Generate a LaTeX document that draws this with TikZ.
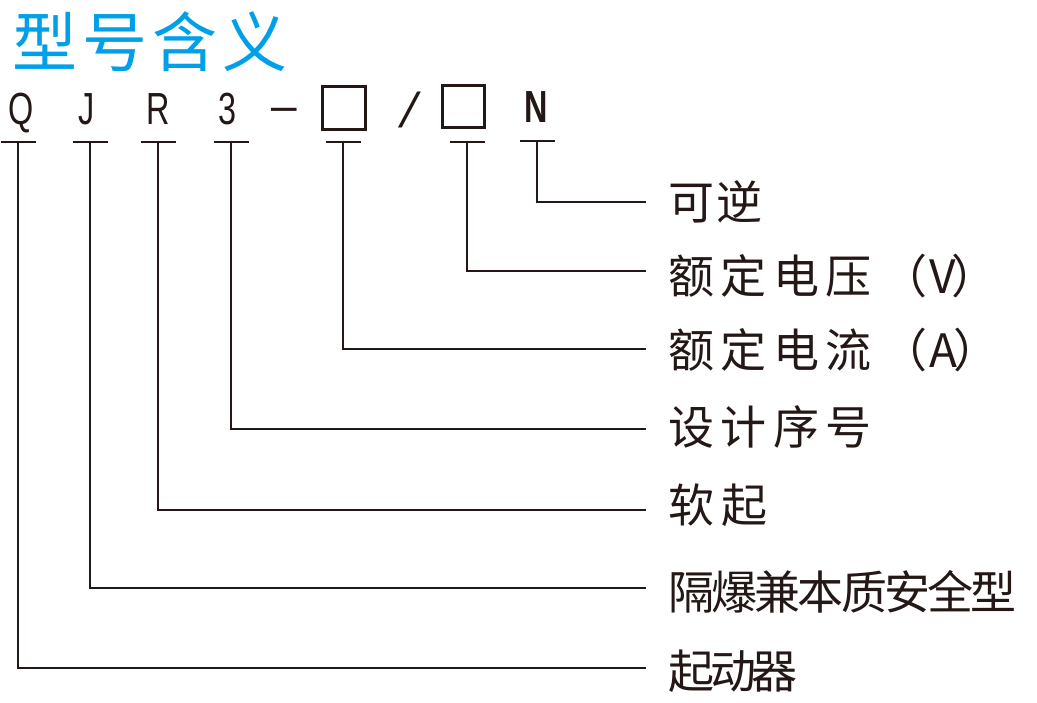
\documentclass[tikz,border=0pt]{standalone}
\usepackage{fontspec}
\newfontfamily\cjk{Noto Sans CJK SC}
\newfontfamily\narrow[FakeStretch=0.72]{Liberation Sans}
\definecolor{ink}{HTML}{231815}
\definecolor{titleblue}{HTML}{00A0E9}
\tikzset{
  link/.style={draw=ink, line width=2.6pt},
  letter/.style={inner sep=0pt, anchor=base, text=ink, font=\narrow\fontsize{45}{45}\selectfont},
  slot/.style={draw=ink, line width=2.8pt, inner sep=0pt, minimum size=43pt},
  lbl/.style={inner sep=0pt, anchor=west, text=ink},
}
\newcommand{\lblfont}[1]{\cjk\fontsize{46}{46}\selectfont\addfontfeatures{LetterSpace=#1}}
\newcommand{\paren}[1]{{\addfontfeatures{LetterSpace=0}\hspace{10pt}（\kern2pt #1\kern-4pt）}}
\begin{document}
\begin{tikzpicture}[x=1pt,y=-1pt]
\useasboundingbox (0,0) rectangle (1037,703);
% title
\node[inner sep=0pt, anchor=west, text=titleblue, font=\cjk\fontsize{65}{65}\selectfont\addfontfeatures{LetterSpace=8}] (title) at (12,42) {型号含义};
% code letters
\node[letter] (q) at (21,125) {Q};
\node[letter] (j) at (87,125) {J};
\node[letter] (r) at (158,125) {R};
\node[letter] (three) at (228,125) {3};
\node[inner sep=0pt, anchor=base, text=ink, font=\fontspec{Liberation Sans}\fontsize{46}{46}\selectfont] (dash) at (284,122) {–};
\node[slot] (box1) at (344,108) {};
\node[inner sep=0pt, text=ink, transform shape, xslant=0.26, font=\fontspec{Liberation Sans}\fontsize{49}{49}\selectfont] (slash) at (410,110) {/};
\node[slot, minimum size=42pt] (box2) at (463.5,106.5) {};
\node[letter, font=\narrow\bfseries\fontsize{45}{45}\selectfont] (n) at (536,123) {N};
% labels
\node[lbl, font=\lblfont{6}] (l1) at (668,202) {可逆};
\node[lbl, font=\lblfont{14}] (l2) at (668,276) {额定电压\paren{V}};
\node[lbl, font=\lblfont{14}] (l3) at (668,350) {额定电流\paren{A}};
\node[lbl, font=\lblfont{14}] (l4) at (668,427) {设计序号};
\node[lbl, font=\lblfont{17}] (l5) at (668,505) {软起};
\node[lbl, font=\lblfont{-6}] (l6) at (668,592) {隔爆兼本质安全型};
\node[lbl, font=\lblfont{-9}] (l7) at (668,671) {起动器};
% taps
\coordinate (tq) at (18,142);
\coordinate (tj) at (90,142);
\coordinate (tr) at (158,142);
\coordinate (t3) at (231,142);
\coordinate (tb1) at (343,142);
\coordinate (tb2) at (467,142);
\coordinate (tn) at (537,141);
% line ends
\coordinate (e1) at (646,202);
\coordinate (e2) at (646,271);
\coordinate (e3) at (646,349);
\coordinate (e4) at (646,429);
\coordinate (e5) at (646,510);
\coordinate (e6) at (646,588);
\coordinate (e7) at (646,668);
% bars
\foreach \t in {tq,tj,tr,t3,tb1,tb2,tn}{
  \draw[link] ([xshift=-17.5pt]\t) -- ([xshift=17.5pt]\t);
}
% connectors
\draw[link] (tn) |- (e1);
\draw[link] (tb2) |- (e2);
\draw[link] (tb1) |- (e3);
\draw[link] (t3) |- (e4);
\draw[link] (tr) |- (e5);
\draw[link] (tj) |- (e6);
\draw[link] (tq) |- (e7);
\end{tikzpicture}
\end{document}
